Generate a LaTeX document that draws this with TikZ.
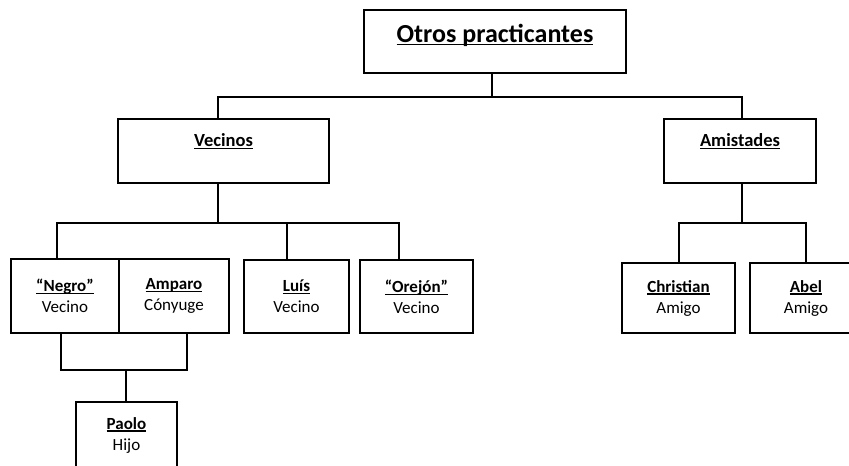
\documentclass[tikz,border=0pt]{standalone}
\usepackage{fontspec}
\setmainfont{Carlito}
\newcommand{\rayado}[1]{\setbox0\hbox{#1}\leavevmode\rlap{\rule[-2.6pt]{\wd0}{1.3pt}}\box0}
\newcommand{\nombre}[1]{\rayado{\textbf{#1}}}
\tikzset{
  caja/.style={draw,line width=1.6pt,inner sep=0pt,align=center,
               font=\fontsize{17}{21}\selectfont},
  grupo/.style={caja,font=\fontsize{18.5}{22}\selectfont\bfseries,
                text height=12pt,text depth=20.6pt},
  raiz/.style={caja,font=\fontsize{26}{31}\selectfont\bfseries,
               text height=16.5pt,text depth=14pt},
  enlace/.style={line width=1.6pt}}

\begin{document}
\begin{tikzpicture}[x=1pt,y=-1pt]
  \useasboundingbox (0,0) rectangle (849,466);

  % CAJAS
  \node[raiz,minimum width=262pt,minimum height=63pt] (otros) at (495,41.5)
    {\rayado{Otros practicantes}};
  \node[grupo,minimum width=211pt,minimum height=64pt] (vecinos) at (223.5,151)
    {\rayado{Vecinos}};
  \node[grupo,minimum width=152pt,minimum height=64pt] (amistades) at (740,151)
    {\rayado{Amistades}};

  \node[caja,minimum width=108pt,minimum height=74pt] (negro) at (65,296)
    {\nombre{“Negro”}\\Vecino};
  \node[caja,minimum width=110pt,minimum height=74pt] (amparo) at (174,296)
    {\nombre{Amparo}\\Cónyuge};
  \node[caja,minimum width=105pt,minimum height=73pt] (luis) at (296.5,296.5)
    {\nombre{Luís}\\Vecino};
  \node[caja,minimum width=113pt,minimum height=73pt] (orejon) at (416.5,296.5)
    {\nombre{“Orejón”}\\Vecino};
  \node[caja,minimum width=113pt,minimum height=70pt] (christian) at (678.5,298)
    {\nombre{Christian}\\Amigo};
  \node[caja,minimum width=112pt,minimum height=70pt] (abel) at (806,298)
    {\nombre{Abel}\\Amigo};
  \node[caja,minimum width=101pt,minimum height=66pt] (paolo) at (126.5,435)
    {\nombre{Paolo}\\Hijo};

  % ENLACES
  \coordinate (bus1) at (492,97);
  \coordinate (bus2) at (218,223);
  \coordinate (bus3) at (742,223);
  \coordinate (bus4) at (126,370);

  \draw[enlace] (otros.south -| bus1) -- (bus1);
  \draw[enlace] ([xshift=-5.5pt]vecinos.north) |- (bus1) -| ([xshift=2pt]amistades.north);

  \draw[enlace] (vecinos.south -| bus2) -- (bus2);
  \draw[enlace] ([xshift=-8pt]negro.north) |- (bus2) -| ([xshift=-17.5pt]orejon.north);
  \draw[enlace] ([xshift=-9.5pt]luis.north) |- (bus2);

  \draw[enlace] (amistades.south -| bus3) -- (bus3);
  \draw[enlace] ([xshift=0.5pt]christian.north) |- (bus3) -| (abel.north);

  \draw[enlace] ([xshift=-4pt]negro.south) |- (bus4) -| ([xshift=13pt]amparo.south);
  \draw[enlace] (bus4) -- (paolo.north -| bus4);

\end{tikzpicture}
\end{document}
